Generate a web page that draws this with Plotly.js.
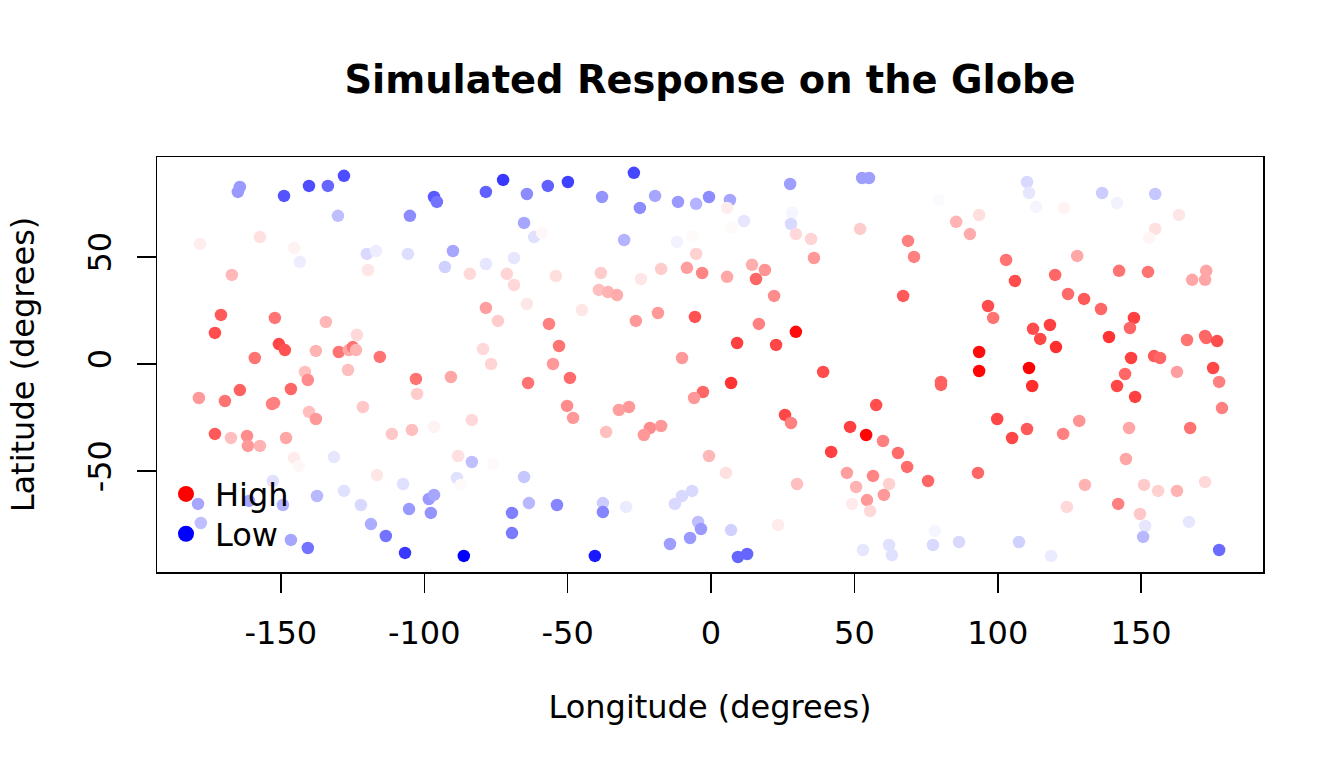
<!DOCTYPE html>
<html><head><meta charset="utf-8">
<script src="https://cdn.plot.ly/plotly-3.0.1.min.js"></script>
<style>html,body{margin:0;padding:0;background:#fff}#chart{width:1344px;height:768px}</style>
</head><body><div id="chart"></div>
<script>
const lon = [
-164.3,-165.0,-148.9,-140.2,-133.6,-128.0,-96.6,-95.6,-130.1,-105.0,-178.2,-157.3,-145.4,-143.4,-167.1,-120.0,-116.8,-105.7,-119.6,-92.8,-90.0,
-78.5,-72.5,-64.2,-56.9,-49.9,-26.9,-38.0,-24.8,-19.5,-11.5,-5.2,-0.7,-65.2,-61.7,-58.9,-30.3,-11.9,-6.6,-5.2,-8.4,-3.1,-17.4,-24.4,-38.4,-39.1,-35.9,-32.8,-54.1,-68.7,-78.5,-71.2,-68.7,-84.1,
27.6,52.7,55.1,6.6,5.6,11.5,7.3,28.3,27.9,29.6,34.9,35.9,52.0,79.5,85.5,93.5,90.3,68.7,70.8,14.3,18.8,15.7,5.6,22.0,67.0,
110.2,110.9,113.4,123.1,136.4,141.6,154.9,163.2,154.9,152.8,102.9,106.0,120.0,127.7,124.5,130.1,142.3,152.4,167.8,172.7,172.3,
-170.9,-173.0,-152.1,-134.3,-123.5,-150.7,-148.6,-137.8,-129.8,-126.3,-124.9,-123.8,-115.5,-159.1,-141.6,-140.6,-126.6,-102.9,-102.5,-146.5,-164.3,-178.6,-169.5,-153.1,-152.4,-121.4,-140.2,-137.8,-173.0,-167.4,-161.8,-148.2,-111.3,-104.3,-96.6,
-161.5,-157.3,-145.4,-143.7,-131.5,-152.8,-116.5,-107.4,-128.0,-137.4,-161.1,-149.3,-178.9,-177.9,-122.1,-98.4,-96.6,-105.3,-97.7,-118.6,-113.4,-146.5,-140.6,-106.7,
-78.5,-74.3,-64.2,-45.0,-56.5,-53.0,-55.1,-49.2,-63.8,-79.5,-76.7,-90.7,-26.2,-18.5,-5.6,-10.1,-2.8,-5.9,-50.2,-48.1,-32.1,-28.6,-21.3,-17.4,-23.4,-36.6,-83.4,
16.7,29.6,9.1,22.7,39.1,7.0,96.6,98.4,93.5,93.5,80.2,80.2,57.6,25.8,27.9,48.5,54.1,60.0,99.8,
136.0,147.5,146.1,138.8,112.3,118.2,114.8,120.3,110.9,112.0,146.5,154.5,156.6,162.5,166.0,172.3,172.7,176.5,175.1,177.2,144.4,141.6,147.9,178.2,110.2,105.0,122.8,128.4,145.8,167.1,
144.7,130.4,124.1,142.0,151.0,155.9,162.5,172.3,149.6,151.4,166.7,150.7,107.4,118.6,177.2,
-0.7,-88.2,-83.4,-76.0,-88.6,-87.2,-65.2,-63.5,-69.4,-69.4,-53.7,-37.7,-37.7,-29.6,-12.6,-10.1,-6.6,-4.5,-3.5,-7.3,-14.3,-86.2,-40.5,
65.2,68.4,41.9,47.4,56.5,50.6,62.1,54.4,60.3,49.2,55.5,75.7,93.1,5.2,30.0,23.4,7.0,9.4,12.6,53.0,62.1,63.1,78.1,77.4,86.5
];
const lat = [
82.7,80.4,78.5,83.2,83.2,87.9,78.0,75.7,69.2,69.2,56.1,59.3,54.2,47.7,41.6,51.4,52.8,51.4,43.9,45.3,52.8,
80.4,86.0,79.4,83.2,85.0,89.3,78.0,72.9,78.5,75.7,74.8,78.0,65.9,59.3,61.2,57.9,57.0,59.8,51.4,44.9,42.5,44.4,39.7,42.5,34.6,33.6,32.2,41.1,49.5,46.7,42.1,36.9,42.1,
84.1,86.9,86.9,76.6,72.9,66.8,63.6,70.6,65.4,60.7,58.4,49.5,63.1,76.6,66.4,69.6,60.7,57.5,50.0,46.3,43.9,39.7,40.7,31.8,31.8,
85.0,79.9,73.4,72.9,79.9,75.2,79.4,69.6,63.1,58.9,48.6,38.8,41.6,50.5,32.7,30.4,43.5,43.0,39.3,43.5,39.3,
22.9,14.5,21.5,19.6,13.6,9.3,6.5,6.1,5.6,6.5,7.9,6.5,3.3,2.8,-3.7,-7.5,-2.8,-7.0,-14.0,-11.7,-12.2,-15.9,-17.3,-18.7,-18.2,-20.1,-22.4,-25.7,-32.7,-34.6,-33.6,-34.6,-32.7,-30.8,-29.4,
-38.3,-38.3,-43.9,-47.7,-43.5,-54.7,-51.9,-56.1,-59.3,-61.7,-64.0,-65.9,-65.4,-74.3,-65.9,-63.1,-61.2,-67.8,-69.6,-74.8,-80.4,-82.2,-86.0,-88.3,
26.2,20.1,28.0,25.2,18.7,8.4,0.0,-6.5,-8.9,7.0,0.0,-6.1,20.1,23.8,22.0,2.8,-13.1,-15.9,-19.6,-25.2,-21.5,-20.1,-29.9,-29.0,-33.2,-31.8,-26.2,
18.7,15.0,9.8,8.9,-3.7,-8.9,27.1,21.5,5.6,-3.3,-8.4,-9.8,-19.2,-23.8,-27.6,-29.4,-33.2,-36.0,-25.7,
25.7,21.5,16.8,12.6,16.4,18.2,11.7,7.9,-1.9,-10.3,2.8,3.7,2.8,-3.7,11.2,13.1,12.1,10.7,-1.9,-8.4,-4.7,-10.3,-15.4,-20.6,-30.4,-34.6,-32.7,-26.6,-29.9,-29.9,
-44.4,-56.5,-66.8,-65.4,-56.5,-59.3,-59.3,-55.1,-70.1,-75.7,-73.8,-80.8,-83.2,-89.7,-86.9,
-43.0,-43.0,-45.8,-46.7,-53.3,-56.5,-52.8,-65.0,-69.6,-79.0,-65.9,-65.0,-69.2,-66.8,-65.4,-61.7,-59.3,-73.8,-77.1,-81.3,-84.1,-89.7,-89.7,
-41.6,-48.1,-41.1,-50.9,-52.3,-57.5,-56.1,-63.6,-61.2,-65.4,-68.7,-54.7,-50.9,-50.9,-56.1,-75.2,-77.6,-90.2,-88.8,-86.9,-84.6,-89.3,-78.0,-84.6,-83.2
];
const response = [
-0.4,-0.4,-0.67,-0.7,-0.6,-0.7,-0.65,-0.55,-0.25,-0.45,0.07,0.12,0.05,-0.07,0.28,-0.15,-0.07,-0.13,0.1,-0.18,-0.35,
-0.62,-0.78,-0.45,-0.62,-0.75,-0.72,-0.42,-0.45,-0.35,-0.4,-0.3,-0.45,-0.35,-0.12,0.03,-0.3,-0.05,0.02,0.18,0.38,0.48,0.2,0.1,0.2,0.25,0.3,0.33,0.13,-0.1,-0.1,0.17,0.15,0.15,
-0.38,-0.38,-0.38,-0.35,0.07,-0.1,0.02,-0.04,-0.15,0.15,0.17,0.4,0.2,-0.02,0.3,0.13,0.33,0.5,0.5,0.32,0.42,0.6,0.35,0.45,0.65,
-0.15,-0.1,-0.04,0.05,-0.2,-0.05,-0.22,0.1,0.12,0.04,0.55,0.7,0.6,0.35,0.58,0.65,0.55,0.55,0.35,0.35,0.35,
0.65,0.7,0.55,0.28,0.15,0.72,0.68,0.3,0.55,0.35,0.55,0.3,0.55,0.55,0.25,0.45,0.25,0.55,0.2,0.6,0.62,0.4,0.55,0.5,0.5,0.22,0.25,0.4,0.65,0.25,0.45,0.35,0.22,0.25,0.05,
0.4,0.3,0.08,0.03,-0.1,-0.12,0.1,-0.12,-0.12,-0.28,-0.35,-0.3,-0.35,-0.25,-0.15,-0.4,-0.35,-0.4,-0.42,-0.32,-0.55,-0.35,-0.55,-0.78,
0.38,0.2,0.1,0.1,0.5,0.55,0.4,0.58,0.55,0.15,0.17,0.35,0.4,0.4,0.68,0.4,0.6,0.4,0.45,0.4,0.38,0.4,0.45,0.4,0.4,0.25,0.15,
0.5,0.95,0.75,0.72,0.7,0.8,0.7,0.55,0.95,0.98,0.62,0.62,0.7,0.72,0.5,0.75,0.98,0.5,0.72,
0.6,0.75,0.6,0.8,0.7,0.75,0.72,0.82,1.0,0.82,0.75,0.65,0.6,0.38,0.55,0.6,0.6,0.7,0.72,0.5,0.6,0.72,0.75,0.5,0.65,0.72,0.5,0.42,0.35,0.55,
0.35,0.3,0.15,0.5,0.2,0.18,0.3,0.15,0.22,-0.1,-0.1,-0.28,-0.18,-0.08,-0.58,
0.28,0.12,-0.25,0.02,-0.12,0.02,-0.22,-0.28,-0.5,-0.52,-0.48,-0.2,-0.48,-0.08,-0.15,-0.15,-0.15,-0.25,-0.4,-0.4,-0.38,-1.0,-0.9,
0.58,0.58,0.75,0.38,0.48,0.3,0.18,0.4,0.4,0.08,0.15,0.6,0.6,0.12,0.25,0.08,-0.18,-0.6,-0.6,-0.1,-0.12,-0.12,-0.04,-0.15,-0.15
];
const xTicks = [-150, -100, -50, 0, 50, 100, 150];
const yTicks = [-50, 0, 50];
const legendLabels = ['High', 'Low'];
const legendColors = ['#FF0000', '#0000FF'];

const FONT = 'DejaVu Sans, Arial, sans-serif';
const colorscale = [[0, '#0000FF'], [0.5, '#FFFFFF'], [1, '#FF0000']];

const traces = [{
  type: 'scatter', mode: 'markers', x: lon, y: lat, showlegend: false, hoverinfo: 'skip',
  marker: { size: 12.5, color: response, colorscale: colorscale, cmin: -1, cmax: 1, line: { width: 0 } }
}];
const legendIds = ['legend', 'legend2'];
legendLabels.forEach((lab, i) => {
  traces.push({
    type: 'scatter', mode: 'markers', x: [null], y: [null], name: lab, legend: legendIds[i],
    marker: { size: 16, color: legendColors[i], line: { width: 0 } }
  });
});

const legendBase = {
  xanchor: 'left', yanchor: 'top', bgcolor: 'rgba(0,0,0,0)', borderwidth: 0, itemwidth: 48,
  font: { family: FONT, size: 32, color: '#000' }
};

const layout = {
  width: 1344, height: 768,
  paper_bgcolor: '#fff', plot_bgcolor: '#fff',
  margin: { l: 157, r: 81, t: 157, b: 196, pad: 0 },
  font: { family: FONT, size: 32, color: '#000' },
  title: { text: '<b>Simulated Response on the Globe</b>', font: { family: FONT, size: 38.4, color: '#000' },
           xref: 'paper', x: 0.5, xanchor: 'center', yref: 'container', y: 1 - 80 / 768, yanchor: 'middle' },
  xaxis: {
    range: [-193.2, 192.5], tickmode: 'array', tickvals: xTicks, ticktext: xTicks.map(String),
    ticks: 'outside', ticklen: 19, tickwidth: 1.5, tickcolor: '#000',
    showline: true, mirror: true, linecolor: '#000', linewidth: 1.5,
    showgrid: false, zeroline: false, tickfont: { family: FONT, size: 32, color: '#000' },
    ticklabelstandoff: 13,
    title: { text: 'Longitude (degrees)', font: { family: FONT, size: 32, color: '#000' }, standoff: 44 }
  },
  yaxis: {
    range: [-97.2, 96.7], tickmode: 'array', tickvals: yTicks, ticktext: yTicks.map(String),
    ticks: 'outside', ticklen: 19, tickwidth: 1.5, tickcolor: '#000', tickangle: -90,
    showline: true, mirror: true, linecolor: '#000', linewidth: 1.5,
    showgrid: false, zeroline: false, tickfont: { family: FONT, size: 32, color: '#000' },
    ticklabelstandoff: 13,
    title: { text: 'Latitude (degrees)', font: { family: FONT, size: 32, color: '#000' }, standoff: 36 }
  },
  showlegend: true,
  legend: Object.assign({ x: 0.0, y: 0.254 }, legendBase),
  legend2: Object.assign({ x: 0.0, y: 0.158 }, legendBase)
};

Plotly.newPlot('chart', traces, layout, { displayModeBar: false, staticPlot: true });
</script>
</body></html>
